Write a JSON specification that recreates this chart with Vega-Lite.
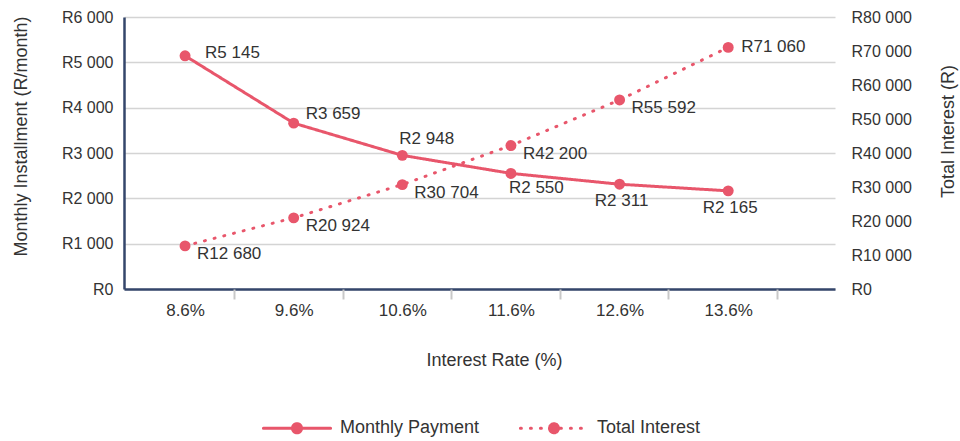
{
  "$schema": "https://vega.github.io/schema/vega-lite/v6.json",
  "width": 711,
  "height": 272,
  "autosize": "none",
  "padding": {"left": 124, "top": 17, "right": 125, "bottom": 152},
  "config": {
    "view": {"stroke": null},
    "font": "Liberation Sans",
    "locale": {"number": {"decimal": ".", "thousands": " ", "grouping": [3], "currency": ["R", ""]}},
    "axis": {"labelColor": "#333333", "titleColor": "#333333", "titleFontWeight": "normal", "labelFontSize": 16, "titleFontSize": 18},
    "legend": {"labelColor": "#333333"}
  },
  "data": {
    "values": [
      {"rate": 8.6, "series": "Monthly Payment", "value": 5145},
      {"rate": 9.6, "series": "Monthly Payment", "value": 3659},
      {"rate": 10.6, "series": "Monthly Payment", "value": 2948},
      {"rate": 11.6, "series": "Monthly Payment", "value": 2550},
      {"rate": 12.6, "series": "Monthly Payment", "value": 2311},
      {"rate": 13.6, "series": "Monthly Payment", "value": 2165},
      {"rate": 8.6, "series": "Total Interest", "value": 12680},
      {"rate": 9.6, "series": "Total Interest", "value": 20924},
      {"rate": 10.6, "series": "Total Interest", "value": 30704},
      {"rate": 11.6, "series": "Total Interest", "value": 42200},
      {"rate": 12.6, "series": "Total Interest", "value": 55592},
      {"rate": 13.6, "series": "Total Interest", "value": 71060}
    ]
  },
  "layer": [
    {
      "transform": [{"filter": "datum.series === 'Monthly Payment'"}],
      "encoding": {
        "x": {
          "field": "rate", "type": "quantitative",
          "scale": {"domain": [8.038, 14.583], "nice": false, "zero": false},
          "axis": {
            "orient": "bottom",
            "values": [8.6, 9.6, 10.6, 11.6, 12.6, 13.6],
            "labelExpr": "format(datum.value, '.1f') + '%'",
            "ticks": false, "grid": false,
            "domainColor": "#34466b", "domainWidth": 2.5,
            "labelPadding": 13, "labelFontSize": 17,
            "title": "Interest Rate (%)", "titleX": 370, "titleY": 71, "titleBaseline": "middle", "titleAlign": "center"
          }
        },
        "y": {
          "field": "value", "type": "quantitative",
          "scale": {"domain": [0, 6000], "nice": false},
          "axis": {
            "orient": "left",
            "values": [0, 1000, 2000, 3000, 4000, 5000, 6000],
            "format": "$,d",
            "domainColor": "#34466b", "domainWidth": 2.5,
            "ticks": false, "grid": true, "gridColor": "#d4d4d4", "gridWidth": 1.5,
            "labelPadding": 11,
            "title": "Monthly Installment (R/month)", "titleX": -103, "titleY": 119, "titleAngle": 270, "titleBaseline": "middle", "titleAlign": "center"
          }
        }
      },
      "layer": [
        {
          "mark": {"type": "line", "strokeWidth": 3, "color": "#e8566b"},
          "encoding": {
            "strokeDash": {
              "field": "series", "type": "nominal",
              "scale": {"domain": ["Monthly Payment", "Total Interest"], "range": [[1, 0], [1, 9]]},
              "legend": {
                "orient": "none", "legendX": 164, "legendY": 402, "direction": "horizontal", "title": null,
                "symbolType": "M-5.6,0H5.6M-0.75,0A0.75,0.75,0,1,0,0.75,0A0.75,0.75,0,1,0,-0.75,0A0.75,0.75,0,1,0,0.75,0A0.75,0.75,0,1,0,-0.75,0A0.75,0.75,0,1,0,0.75,0A0.75,0.75,0,1,0,-0.75,0A0.75,0.75,0,1,0,0.75,0A0.75,0.75,0,1,0,-0.75,0A0.75,0.75,0,1,0,0.75,0A0.75,0.75,0,1,0,-0.75,0A0.75,0.75,0,1,0,0.75,0A0.75,0.75,0,1,0,-0.75,0A0.75,0.75,0,1,0,0.75,0A0.75,0.75,0,1,0,-0.75,0A0.75,0.75,0,1,0,0.75,0A0.75,0.75,0,1,0,-0.75,0A0.75,0.75,0,1,0,0.75,0A0.75,0.75,0,1,0,-0.75,0A0.75,0.75,0,1,0,0.75,0A0.75,0.75,0,1,0,-0.75,0Z",
                "symbolSize": 144, "symbolStrokeWidth": 3, "symbolStrokeColor": "#e8566b", "symbolFillColor": "#e8566b",
                "labelFontSize": 18, "labelOffset": 34, "columnPadding": 34,
                "encode": {"symbols": {"update": {"strokeCap": {"value": "round"}, "fill": {"value": "#e8566b"}, "stroke": {"value": "#e8566b"}}}}
              }
            }
          }
        },
        {"mark": {"type": "point", "filled": true, "size": 120, "opacity": 1, "color": "#e8566b"}},
        {
          "transform": [{"filter": "datum.rate === 8.6"}],
          "mark": {"type": "text", "align": "left", "baseline": "middle", "dx": 20, "dy": -3, "fontSize": 17, "color": "#333333"},
          "encoding": {"text": {"field": "value", "type": "quantitative", "format": "$,d"}}
        },
        {
          "transform": [{"filter": "datum.rate === 9.6"}],
          "mark": {"type": "text", "align": "left", "baseline": "middle", "dx": 12, "dy": -9, "fontSize": 17, "color": "#333333"},
          "encoding": {"text": {"field": "value", "type": "quantitative", "format": "$,d"}}
        },
        {
          "transform": [{"filter": "datum.rate === 10.6"}],
          "mark": {"type": "text", "align": "left", "baseline": "middle", "dx": -3, "dy": -16, "fontSize": 17, "color": "#333333"},
          "encoding": {"text": {"field": "value", "type": "quantitative", "format": "$,d"}}
        },
        {
          "transform": [{"filter": "datum.rate === 11.6"}],
          "mark": {"type": "text", "align": "left", "baseline": "middle", "dx": -2, "dy": 15, "fontSize": 17, "color": "#333333"},
          "encoding": {"text": {"field": "value", "type": "quantitative", "format": "$,d"}}
        },
        {
          "transform": [{"filter": "datum.rate >= 12.6"}],
          "mark": {"type": "text", "align": "center", "baseline": "middle", "dx": 2, "dy": 17, "fontSize": 17, "color": "#333333"},
          "encoding": {"text": {"field": "value", "type": "quantitative", "format": "$,d"}}
        }
      ]
    },
    {
      "transform": [{"filter": "datum.series === 'Total Interest'"}],
      "encoding": {
        "x": {
          "field": "rate", "type": "quantitative",
          "scale": {"domain": [8.038, 14.583], "nice": false, "zero": false},
          "axis": {
            "orient": "bottom",
            "values": [9.05, 10.05, 11.05, 12.05, 13.05, 14.05],
            "labels": false, "domain": false, "grid": false,
            "ticks": true, "tickColor": "#c8c8c8", "tickSize": 10, "tickWidth": 2,
            "title": null
          }
        },
        "y": {
          "field": "value", "type": "quantitative",
          "scale": {"domain": [0, 80000], "nice": false},
          "axis": {
            "orient": "right",
            "values": [0, 10000, 20000, 30000, 40000, 50000, 60000, 70000, 80000],
            "format": "$,d",
            "domain": false, "ticks": false, "grid": false,
            "labelPadding": 16,
            "title": "Total Interest (R)", "titleX": 113, "titleY": 114, "titleAngle": 270, "titleBaseline": "middle", "titleAlign": "center"
          }
        }
      },
      "layer": [
        {
          "mark": {"type": "line", "strokeWidth": 3, "strokeCap": "round", "color": "#e8566b"},
          "encoding": {
            "strokeDash": {
              "field": "series", "type": "nominal",
              "scale": {"domain": ["Monthly Payment", "Total Interest"], "range": [[1, 0], [1, 9]]},
              "legend": {
                "orient": "none", "legendX": 164, "legendY": 402, "direction": "horizontal", "title": null,
                "symbolType": "M-5.6,0H5.6M-0.75,0A0.75,0.75,0,1,0,0.75,0A0.75,0.75,0,1,0,-0.75,0A0.75,0.75,0,1,0,0.75,0A0.75,0.75,0,1,0,-0.75,0A0.75,0.75,0,1,0,0.75,0A0.75,0.75,0,1,0,-0.75,0A0.75,0.75,0,1,0,0.75,0A0.75,0.75,0,1,0,-0.75,0A0.75,0.75,0,1,0,0.75,0A0.75,0.75,0,1,0,-0.75,0A0.75,0.75,0,1,0,0.75,0A0.75,0.75,0,1,0,-0.75,0A0.75,0.75,0,1,0,0.75,0A0.75,0.75,0,1,0,-0.75,0A0.75,0.75,0,1,0,0.75,0A0.75,0.75,0,1,0,-0.75,0A0.75,0.75,0,1,0,0.75,0A0.75,0.75,0,1,0,-0.75,0A0.75,0.75,0,1,0,0.75,0A0.75,0.75,0,1,0,-0.75,0Z",
                "symbolSize": 144, "symbolStrokeWidth": 3, "symbolStrokeColor": "#e8566b", "symbolFillColor": "#e8566b",
                "labelFontSize": 18, "labelOffset": 34, "columnPadding": 34,
                "encode": {"symbols": {"update": {"strokeCap": {"value": "round"}, "fill": {"value": "#e8566b"}, "stroke": {"value": "#e8566b"}}}}
              }
            }
          }
        },
        {"mark": {"type": "point", "filled": true, "size": 120, "opacity": 1, "color": "#e8566b"}},
        {
          "transform": [{"filter": "datum.rate < 13"}],
          "mark": {"type": "text", "align": "left", "baseline": "middle", "dx": 12, "dy": 8, "fontSize": 17, "color": "#333333"},
          "encoding": {"text": {"field": "value", "type": "quantitative", "format": "$,d"}}
        },
        {
          "transform": [{"filter": "datum.rate > 13"}],
          "mark": {"type": "text", "align": "left", "baseline": "middle", "dx": 13, "dy": 0, "fontSize": 17, "color": "#333333"},
          "encoding": {"text": {"field": "value", "type": "quantitative", "format": "$,d"}}
        }
      ]
    }
  ],
  "resolve": {"scale": {"y": "independent"}, "axis": {"x": "independent"}}
}
